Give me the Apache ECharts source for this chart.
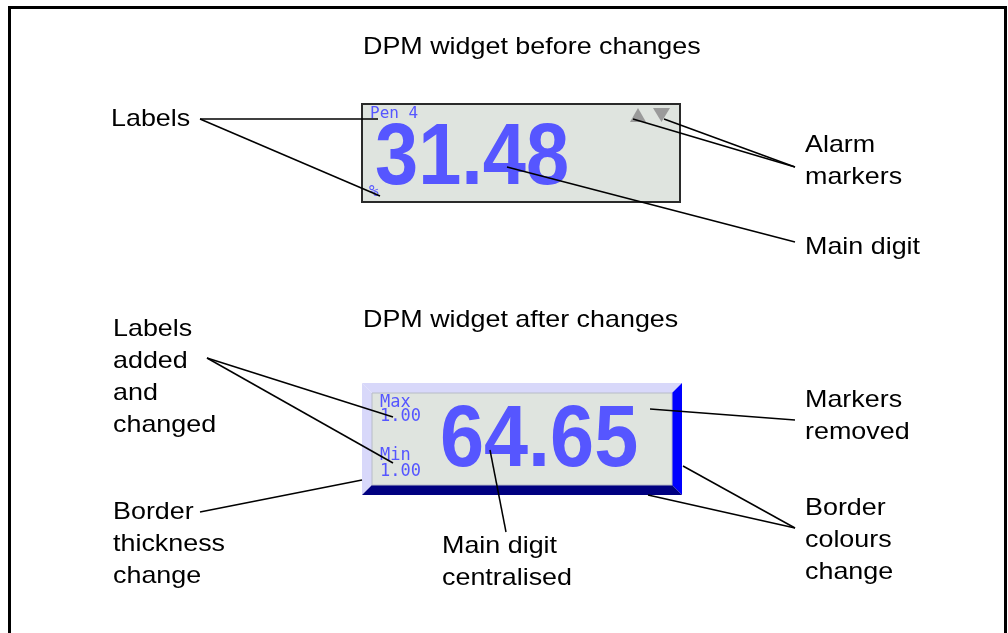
<!DOCTYPE html>
<html>
<head>
<meta charset="utf-8">
<script src="https://cdn.jsdelivr.net/npm/echarts@6/dist/echarts.min.js"></script>
<style>
html, body { margin: 0; padding: 0; background: #fff; }
#main { width: 1008px; height: 633px; }
</style>
</head>
<body>
<div id="main"></div>
<script>
// 图中的文字和读数
var titles = ['DPM widget before changes', 'DPM widget after changes'];
var beforeValue = '31.48';
var afterValue = '64.65';
var beforeLabels = ['Pen 4', '%'];
var afterLabels = ['Max', '1.00', 'Min', '1.00'];
var noteLabels = ['Labels'];
var noteAlarm = ['Alarm', 'markers'];
var noteDigit = ['Main digit'];
var noteAdded = ['Labels', 'added', 'and', 'changed'];
var noteRemoved = ['Markers', 'removed'];
var noteThickness = ['Border', 'thickness', 'change'];
var noteCentral = ['Main digit', 'centralised'];
var noteColours = ['Border', 'colours', 'change'];

var chart = echarts.init(document.getElementById('main'));

var FONT = '"Liberation Sans", Helvetica, Arial, sans-serif';
var MONO = '"DejaVu Sans Mono", monospace';
var BLUE = '#5656ff';
var FACE = '#dfe4df';

function txt(str, x, y, opt) {
    opt = opt || {};
    return {
        type: 'text', x: x, y: y,
        scaleX: opt.sx || 1.12, scaleY: opt.sy || 1,
        style: {
            text: str,
            font: opt.font || ('24px ' + FONT),
            fill: opt.fill || '#000',
            textAlign: opt.align || 'left',
            textVerticalAlign: 'middle'
        }
    };
}

function block(lines, x, y0) {
    return lines.map(function (s, i) { return txt(s, x, y0 + i * 32); });
}

function line(x1, y1, x2, y2) {
    return {
        type: 'line',
        shape: {x1: x1, y1: y1, x2: x2, y2: y2},
        style: {stroke: '#000', lineWidth: 1.5}
    };
}

function poly(points, fill) {
    return {type: 'polygon', shape: {points: points}, style: {fill: fill}};
}

var els = [];

// 外框 (下边没有)
els.push({
    type: 'polyline',
    shape: {points: [[9.5, 640], [9.5, 7.5], [1005.5, 7.5], [1005.5, 640]]},
    style: {stroke: '#000', lineWidth: 3, fill: null}
});

// 标题
els.push(txt(titles[0], 363, 47));
els.push(txt(titles[1], 363, 320));

// ===== 修改前的控件 =====
els.push({
    type: 'rect',
    shape: {x: 362, y: 104, width: 318, height: 98},
    style: {fill: FACE, stroke: '#2a2a2a', lineWidth: 2}
});
els.push(txt(beforeLabels[0], 370, 114, {font: '16px ' + MONO, fill: BLUE, sx: 1}));
els.push(txt(beforeLabels[1], 369, 192, {font: '16px ' + MONO, fill: BLUE, sx: 1}));
els.push(txt(beforeValue, 375, 160, {font: 'bold 80px ' + FONT, fill: BLUE, sx: 0.97, sy: 1.1}));
// 报警标记
els.push(poly([[630, 122], [638, 108], [646, 122]], '#9a9a9a'));
els.push(poly([[653, 108], [670, 108], [661.5, 122]], '#9a9a9a'));

// ===== 修改后的控件 =====
els.push(poly([[362, 383], [682, 383], [672, 393], [372, 393]], '#d8d8fa'));
els.push(poly([[362, 383], [372, 393], [372, 485], [362, 495]], '#d8d8fa'));
els.push(poly([[682, 383], [682, 495], [672, 485], [672, 393]], '#0000ff'));
els.push(poly([[362, 495], [682, 495], [672, 485], [372, 485]], '#000080'));
els.push({
    type: 'rect',
    shape: {x: 372, y: 393, width: 300, height: 92},
    style: {fill: FACE, stroke: '#b8bcc8', lineWidth: 1}
});
els.push(txt(afterLabels[0], 380, 403, {font: '17px ' + MONO, fill: BLUE, sx: 1}));
els.push(txt(afterLabels[1], 380, 417, {font: '17px ' + MONO, fill: BLUE, sx: 1}));
els.push(txt(afterLabels[2], 380, 456, {font: '17px ' + MONO, fill: BLUE, sx: 1}));
els.push(txt(afterLabels[3], 380, 472, {font: '17px ' + MONO, fill: BLUE, sx: 1}));
els.push(txt(afterValue, 440, 442, {font: 'bold 80px ' + FONT, fill: BLUE, sx: 0.99, sy: 1.1}));

// 注释文字
els = els.concat(block(noteLabels, 111, 119));
els = els.concat(block(noteAlarm, 805, 145));
els = els.concat(block(noteDigit, 805, 247));
els = els.concat(block(noteAdded, 113, 329));
els = els.concat(block(noteRemoved, 805, 400));
els = els.concat(block(noteThickness, 113, 512));
els = els.concat(block(noteCentral, 442, 546));
els = els.concat(block(noteColours, 805, 508));

// 引线
els.push(line(200, 119, 378, 119));
els.push(line(200, 119, 380, 196));
els.push(line(795, 167, 633, 119));
els.push(line(795, 167, 664, 119));
els.push(line(507, 167, 795, 242));
els.push(line(207, 358, 393, 417));
els.push(line(207, 358, 393, 463));
els.push(line(650, 409, 795, 420));
els.push(line(200, 512, 362, 480));
els.push(line(490, 450, 506, 532));
els.push(line(795, 528, 683, 466));
els.push(line(795, 528, 648, 495));

chart.setOption({
    animation: false,
    graphic: {elements: els}
});
</script>
</body>
</html>
